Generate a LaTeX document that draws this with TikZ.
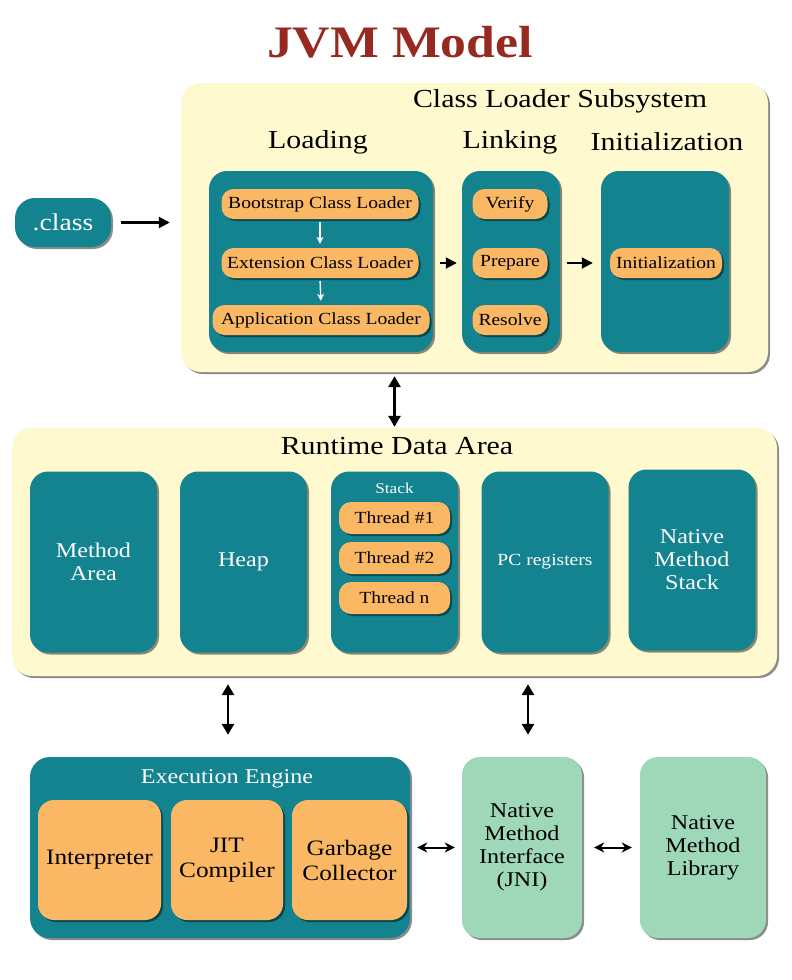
\documentclass[tikz,border=0pt]{standalone}
\usepackage{fontspec}
\setmainfont{Liberation Serif}[FakeStretch=1.15]
\usepackage{tikz}
\usetikzlibrary{shapes, arrows.meta, positioning, calc, shadows}
\definecolor{jvmteal}{RGB}{18, 131, 143}
\definecolor{jvmorange}{RGB}{251, 184, 100}
\definecolor{jvmcream}{RGB}{254, 249, 206}
\definecolor{jvmgreen}{RGB}{158, 216, 185}
\definecolor{jvmred}{RGB}{150, 42, 32}
\tikzset{
  shade/.style={drop shadow={shadow xshift=2pt, shadow yshift=-2pt, fill=black, opacity=0.45}},
  panel/.style={fill=jvmcream, rounded corners=20pt, shade, inner sep=0pt},
  tealbox/.style={fill=jvmteal, rounded corners=18pt, shade, text=white, align=center, inner sep=0pt, minimum height=181pt},
  pillbox/.style={fill=jvmorange, rounded corners=12pt, shade, inner sep=0pt, minimum height=30pt, font=\fontsize{17}{20}\selectfont},
  orangebox/.style={fill=jvmorange, rounded corners=16pt, shade, align=center, inner sep=0pt, minimum height=120pt, font=\fontsize{22}{25}\selectfont},
  greenbox/.style={fill=jvmgreen, rounded corners=18pt, shade, align=center, inner sep=0pt, minimum height=181pt, font=\fontsize{21}{23}\selectfont},
  header/.style={font=\fontsize{26}{30}\selectfont},
  flow/.style={line width=2.5pt, -{Triangle[length=11pt, width=11pt]}},
  dbl/.style={line width=2.8pt, {Triangle[length=11pt, width=12pt]}-{Triangle[length=11pt, width=12pt]}},
  link/.style={line width=2pt, {Stealth[length=10pt, width=10pt]}-{Stealth[length=10pt, width=10pt]}},
  down/.style={white, line width=1.4pt, -{Stealth[length=7pt, width=7pt]}}
}

\begin{document}
\begin{tikzpicture}[x=1pt, y=-1pt]
  \useasboundingbox (0,0) rectangle (792,980);
  \node[text=jvmred, font=\fontsize{45}{50}\selectfont\bfseries] (title) at (400,42) {JVM Model};

  % class loader subsystem
  \node[panel, minimum width=587pt, minimum height=289pt] (cls) at (474.5,227.5) {};
  \node[header] (clstitle) at (560,101) {Class Loader Subsystem};
  \node[header] (loading) at (318,142) {Loading};
  \node[header] (linking) at (510,142) {Linking};
  \node[header] (initialization) at (667,142) {Initialization};
  \node[tealbox, minimum width=224pt] (loadbox) at (321,261.5) {};
  \node[tealbox, minimum width=98pt] (linkbox) at (511,261.5) {};
  \node[tealbox, minimum width=128pt] (initbox) at (665,261.5) {};
  \node[pillbox, minimum width=197pt] (bootstrap) at (320,204) {Bootstrap Class Loader};
  \node[pillbox, minimum width=197pt] (extension) at (320,263) {Extension Class Loader};
  \node[pillbox, minimum width=217pt] (application) at (321,320) {Application Class Loader};
  \node[pillbox, minimum width=75pt] (verify) at (510,204) {Verify};
  \node[pillbox, minimum width=75pt] (prepare) at (510,263) {Prepare};
  \node[pillbox, minimum width=75pt] (resolve) at (510,320) {Resolve};
  \node[pillbox, minimum width=112pt] (initpill) at (666,263) {Initialization};
  \node[fill=jvmteal, rounded corners=20pt, shade, text=white, minimum width=96pt, minimum height=49pt, inner sep=0pt, font=\fontsize{24}{28}\selectfont] (classfile) at (63,222.5) {.class};
  \draw[flow, shorten <=10pt, shorten >=11pt] (classfile.east) -- (classfile.east -| cls.west);
  \draw[down, shorten <=3pt, shorten >=4pt] (bootstrap.south) -- (extension.north);
  \draw[down, shorten <=3pt, shorten >=4pt] (extension.south) -- (application.north);
  \draw[flow, line width=1.8pt, shorten <=7pt, shorten >=5pt] (loadbox.east |- prepare) -- (linkbox.west |- prepare);
  \draw[flow, line width=1.8pt, shorten <=7pt, shorten >=8pt] (linkbox.east |- prepare) -- (initbox.west |- prepare);

  % runtime data area
  \node[panel, minimum width=765pt, minimum height=248pt] (rda) at (394.5,552) {};
  \node[header] (rdatitle) at (397,446) {Runtime Data Area};
  \node[tealbox, minimum width=127pt, font=\fontsize{21}{23}\selectfont] (method) at (93.5,562) {Method\\Area};
  \node[tealbox, minimum width=127pt, font=\fontsize{21}{23}\selectfont] (heap) at (243.5,562) {Heap};
  \node[tealbox, minimum width=127pt] (stack) at (394.5,562) {};
  \node[tealbox, minimum width=127pt, font=\fontsize{17}{20}\selectfont] (pc) at (545,562) {PC registers};
  \node[tealbox, minimum width=127pt, font=\fontsize{21}{23}\selectfont] (nms) at (692,560) {Native\\Method\\Stack};
  \node[text=white, font=\fontsize{15}{18}\selectfont] (stacktitle) at (394.5,488) {Stack};
  \node[pillbox, minimum width=111pt, minimum height=32pt] (thread1) at (394.5,518) {Thread \#1};
  \node[pillbox, minimum width=111pt, minimum height=32pt] (thread2) at (394.5,558) {Thread \#2};
  \node[pillbox, minimum width=111pt, minimum height=32pt] (threadn) at (394.5,598) {Thread n};
  \draw[dbl, shorten <=4pt, shorten >=1pt] (rda.north |- cls.south) -- (rda.north);

  % execution engine and native side
  \node[fill=jvmteal, rounded corners=20pt, shade, minimum width=380pt, minimum height=181pt, inner sep=0pt] (engine) at (220,847.5) {};
  \node[text=white, font=\fontsize{21}{24}\selectfont] (enginetitle) at (227,779) {Execution Engine};
  \node[orangebox, minimum width=123pt] (interp) at (99.5,860) {Interpreter};
  \node[orangebox, minimum width=112pt] (jit) at (227,860) {JIT\\Compiler};
  \node[orangebox, minimum width=115pt] (gc) at (349.5,860) {Garbage\\Collector};
  \node[greenbox, minimum width=120pt] (jni) at (522,847.5) {Native\\Method\\Interface\\(JNI)};
  \node[greenbox, minimum width=126pt] (nml) at (703,847.5) {Native\\Method\\Library};
  \draw[dbl, shorten <=8pt, shorten >=22pt] ([xshift=8pt]engine.north |- rda.south) -- ([xshift=8pt]engine.north);
  \draw[dbl, shorten <=8pt, shorten >=22pt] ([xshift=6pt]jni.north |- rda.south) -- ([xshift=6pt]jni.north);
  \draw[link, shorten <=7pt, shorten >=7pt] (engine.east) -- (jni.west);
  \draw[link, shorten <=12pt, shorten >=8pt] (jni.east) -- (nml.west);
\end{tikzpicture}
\end{document}
